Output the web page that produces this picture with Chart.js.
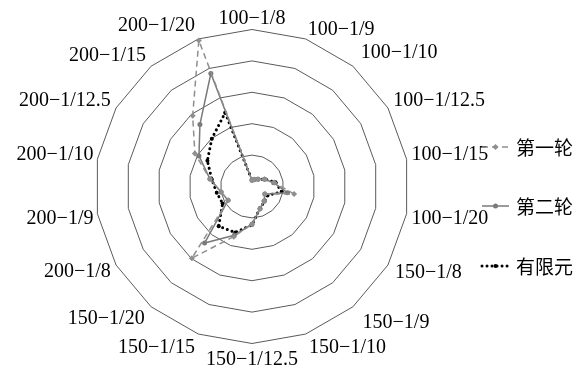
<!DOCTYPE html>
<html>
<head>
<meta charset="utf-8">
<script src="https://cdn.jsdelivr.net/npm/chart.js@4/dist/chart.umd.min.js"></script>
<style>
  html, body { margin: 0; padding: 0; background: #ffffff; }
  #wrap { width: 587px; height: 374px; position: relative; }
</style>
</head>
<body>
<div id="wrap"><canvas id="c" width="587" height="374"></canvas></div>
<script>
const categories = ['100−1/8','100−1/9','100−1/10','100−1/12.5','100−1/15','100−1/20',
  '150−1/8','150−1/9','150−1/10','150−1/12.5','150−1/15','150−1/20',
  '200−1/8','200−1/9','200−1/10','200−1/12.5','200−1/15','200−1/20'];
const seriesNames = ['第一轮', '第二轮', '有限元'];
const round1 = [0.2, 0.24, 0.3, 0.46, 0.72, 1.36, 0.48, 0.6, 0.75, 1.2, 1.7, 2.98, 0.88, 1.0, 1.36, 2.1, 2.94, 4.95];
const round2 = [0.2, 0.24, 0.3, 0.46, 0.70, 1.15, 0.47, 0.6, 0.75, 1.2, 1.65, 2.35, 0.88, 1.0, 1.36, 1.95, 2.58, 3.83];
const fem    = [0.2, 0.24, 0.3, 0.47, 0.76, 0.96, 0.57, 0.62, 0.74, 1.22, 1.56, 1.65, 1.08, 1.14, 1.30, 1.64, 1.99, 2.50];
const rTicks = [0, 1, 2, 3, 4, 5];

// layout only: radial scale geometry and point-label offsets
const CENTER_X = 252, CENTER_Y = 186.5, RADIUS = 157;
const labelPad = [7, 6, 12, 6, 5, 5, 8, 15, 10, 12, 10, 10, 6, 4, 4, 6, 8, 10];

const legendPlugin = {
  id: 'customLegend',
  afterDraw(chart) {
    const ctx = chart.ctx;
    const ys = [147, 206, 266];
    const x0 = 482, x1 = 509, tx = 516;
    chart.data.datasets.forEach((ds, i) => {
      const y = ys[i];
      ctx.save();
      ctx.strokeStyle = ds.borderColor;
      ctx.lineWidth = ds.borderWidth;
      ctx.lineCap = ds.borderCapStyle || 'butt';
      ctx.setLineDash(ds.borderDash || []);
      ctx.beginPath();
      ctx.moveTo(x0, y);
      ctx.lineTo(x1, y);
      ctx.stroke();
      ctx.setLineDash([]);
      ctx.fillStyle = ds.pointBackgroundColor;
      const mx = (x0 + x1) / 2, r = ds.pointRadius;
      ctx.beginPath();
      if (ds.pointStyle === 'rectRot') {
        ctx.moveTo(mx, y - r); ctx.lineTo(mx + r, y); ctx.lineTo(mx, y + r); ctx.lineTo(mx - r, y); ctx.closePath();
      } else {
        ctx.arc(mx, y, r, 0, Math.PI * 2);
      }
      ctx.fill();
      ctx.fillStyle = '#000';
      ctx.font = '19px "Noto Sans CJK SC", sans-serif';
      ctx.textBaseline = 'middle';
      ctx.textAlign = 'left';
      ctx.fillText(ds.label, tx, y + 1);
      ctx.restore();
    });
  }
};

new Chart(document.getElementById('c'), {
  type: 'radar',
  data: {
    labels: categories,
    datasets: [
      { label: seriesNames[0], data: round1, borderColor: '#8f8f8f', backgroundColor: 'transparent',
        borderWidth: 1.5, borderDash: [6, 4], pointStyle: 'rectRot', pointRadius: 3,
        pointBackgroundColor: '#8f8f8f', pointBorderColor: '#8f8f8f', pointBorderWidth: 0, fill: false, tension: 0 },
      { label: seriesNames[1], data: round2, borderColor: '#7a7a7a', backgroundColor: 'transparent',
        borderWidth: 1.5, pointStyle: 'circle', pointRadius: 2.5,
        pointBackgroundColor: '#7a7a7a', pointBorderColor: '#7a7a7a', pointBorderWidth: 0, fill: false, tension: 0 },
      { label: seriesNames[2], data: fem, borderColor: '#000000', backgroundColor: 'transparent',
        borderWidth: 3, borderDash: [0.01, 5], borderCapStyle: 'round', pointStyle: 'circle', pointRadius: 2,
        pointBackgroundColor: '#000000', pointBorderColor: '#000000', pointBorderWidth: 0, fill: false, tension: 0 }
    ]
  },
  options: {
    responsive: false,
    animation: false,
    devicePixelRatio: 1,
    layout: { padding: 0 },
    plugins: { legend: { display: false }, tooltip: { enabled: false } },
    scales: {
      r: {
        min: rTicks[0], max: rTicks[rTicks.length - 1],
        afterSetDimensions(scale) {
          scale.xCenter = CENTER_X;
          scale.yCenter = CENTER_Y;
          scale.drawingArea = RADIUS;
        },
        ticks: { display: false, stepSize: 1 },
        grid: { color: '#5a5a5a', lineWidth: 1, circular: false },
        angleLines: { display: false },
        pointLabels: {
          color: '#000',
          padding: (ctx) => labelPad[ctx.index],
          font: { family: '"Liberation Serif", "Times New Roman", serif', size: 20, lineHeight: 0.4 }
        }
      }
    }
  },
  plugins: [legendPlugin]
});
</script>
</body>
</html>
